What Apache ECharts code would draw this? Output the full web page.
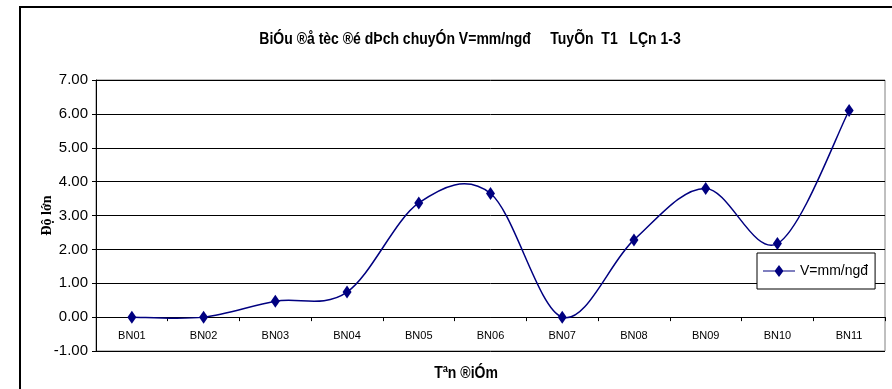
<!DOCTYPE html>
<html>
<head>
<meta charset="utf-8">
<script src="https://cdn.jsdelivr.net/npm/echarts@6/dist/echarts.min.js"></script>
<style>
  html, body { margin: 0; padding: 0; background: #fff; }
  #main { width: 892px; height: 389px; }
</style>
</head>
<body>
<div id="main"></div>
<script>
var categories = ['BN01', 'BN02', 'BN03', 'BN04', 'BN05', 'BN06', 'BN07', 'BN08', 'BN09', 'BN10', 'BN11'];
var speeds = [0, 0, 0.47, 0.74, 3.37, 3.65, 0, 2.28, 3.8, 2.17, 6.1];
var seriesName = 'V=mm/ngđ';
var yTicks = [-1, 7, 1]; // min, max, step

var arial = '"Liberation Sans", Arial, sans-serif';

var myChart = echarts.init(document.getElementById('main'));

// Excel-style smoothed segment between point i and i+1 (Catmull-Rom, 1/6)
function renderCurve (params, api) {
  var i = params.dataIndex;
  var n = speeds.length;
  if (i >= n - 1) return null;
  var p = function (k) {
    k = Math.max(0, Math.min(n - 1, k));
    return api.coord([k, speeds[k]]);
  };
  var p0 = p(i - 1), p1 = p(i), p2 = p(i + 1), p3 = p(i + 2);
  var c1 = [p1[0] + (p2[0] - p0[0]) / 6, p1[1] + (p2[1] - p0[1]) / 6];
  var c2 = [p2[0] - (p3[0] - p1[0]) / 6, p2[1] - (p3[1] - p1[1]) / 6];
  return {
    type: 'bezierCurve',
    shape: { x1: p1[0], y1: p1[1], x2: p2[0], y2: p2[1], cpx1: c1[0], cpy1: c1[1], cpx2: c2[0], cpy2: c2[1] },
    style: { stroke: '#000080', lineWidth: 1.5, fill: null },
    silent: true
  };
}

var option = {
  animation: false,
  backgroundColor: '#fff',
  graphic: [
    {
      type: 'rect',
      shape: { x: 20, y: 7, width: 900, height: 420 },
      style: { fill: null, stroke: '#000', lineWidth: 2 },
      silent: true
    },
    {
      type: 'text',
      x: 470,
      y: 40,
      scaleX: 0.875,
      style: {
        text: 'BiÓu ®å tèc ®é dÞch chuyÓn V=mm/ngđ     TuyÕn  T1   LÇn 1-3',
        font: 'bold 16px ' + arial,
        fill: '#000',
        align: 'center',
        verticalAlign: 'middle'
      },
      silent: true
    },
    {
      type: 'text',
      x: 466,
      y: 374,
      scaleX: 0.875,
      style: {
        text: 'Tªn ®iÓm',
        font: 'bold 16px ' + arial,
        fill: '#000',
        align: 'center',
        verticalAlign: 'middle'
      },
      silent: true
    }
  ],
  legend: {
    data: [{ name: seriesName, icon: 'path://M0,5.4 L32,5.4 L32,6.6 L0,6.6 Z M16,0 L20.5,6 L16,12 L11.5,6 Z' }],
    left: 757,
    top: 253,
    backgroundColor: '#fff',
    borderColor: '#000',
    borderWidth: 1,
    borderRadius: 0,
    padding: [11, 7, 11, 6],
    itemWidth: 32,
    itemHeight: 12,
    itemGap: 4,
    textStyle: { fontFamily: arial, fontSize: 14, color: '#000' }
  },
  grid: {
    left: 96,
    top: 80,
    right: 7,
    bottom: 38,
    outerBoundsMode: 'none',
    show: true,
    borderColor: '#808080',
    borderWidth: 1
  },
  xAxis: {
    type: 'category',
    data: categories,
    boundaryGap: true,
    axisLine: { onZero: true, lineStyle: { color: '#000', width: 1 } },
    axisTick: { show: true, length: 4, lineStyle: { color: '#000' } },
    axisLabel: { margin: -21, fontFamily: arial, fontSize: 11, color: '#000' },
    splitLine: { show: false }
  },
  yAxis: {
    type: 'value',
    min: yTicks[0],
    max: yTicks[1],
    interval: yTicks[2],
    name: 'Độ lớn',
    nameLocation: 'middle',
    nameGap: 42,
    nameMoveOverlap: false,
    nameRotate: 90,
    nameTextStyle: { fontFamily: '"Liberation Serif", "Times New Roman", serif', fontWeight: 'bold', fontSize: 14, color: '#000' },
    axisLine: { show: true, lineStyle: { color: '#000', width: 1 } },
    axisTick: { show: true, length: 4, lineStyle: { color: '#000' } },
    axisLabel: {
      margin: 8,
      fontFamily: arial,
      fontSize: 15,
      color: '#000',
      formatter: function (v) { return v.toFixed(2); }
    },
    splitLine: { show: true, lineStyle: { color: '#000', width: 1 } }
  },
  series: [
    {
      name: 'curve',
      type: 'custom',
      coordinateSystem: 'cartesian2d',
      data: speeds,
      renderItem: renderCurve,
      z: 2
    },
    {
      name: seriesName,
      type: 'line',
      data: speeds,
      symbol: 'diamond',
      symbolSize: [9, 13],
      showAllSymbol: true,
      itemStyle: { color: '#000080' },
      lineStyle: { opacity: 0 },
      z: 3
    }
  ]
};

myChart.setOption(option);
</script>
</body>
</html>
